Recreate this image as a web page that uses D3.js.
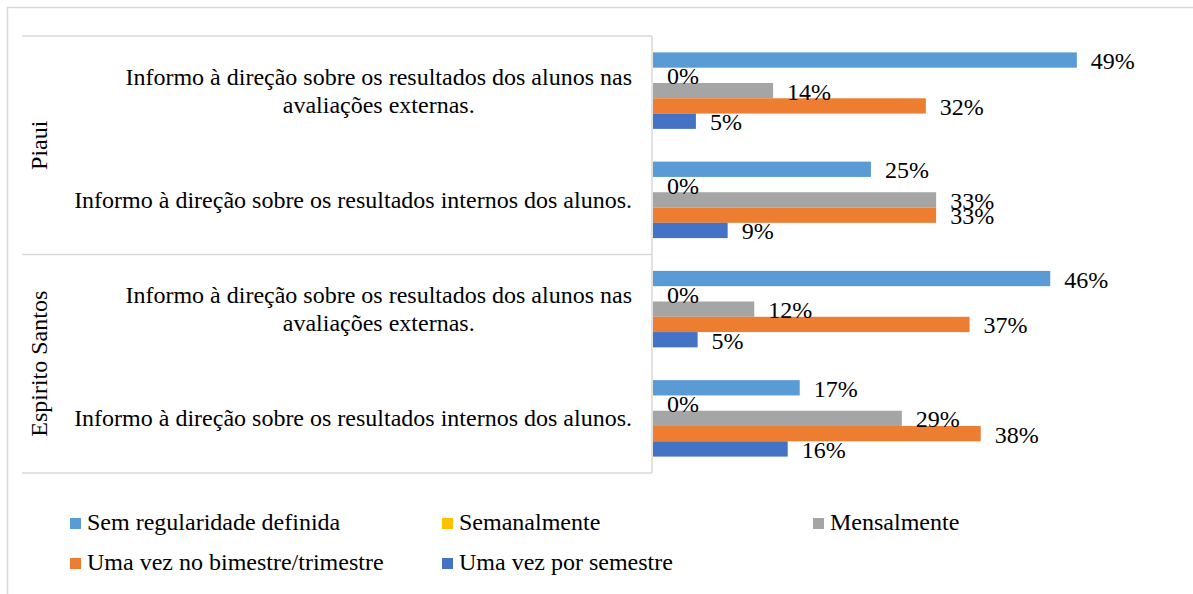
<!DOCTYPE html>
<html>
<head>
<meta charset="utf-8">
<script src="https://cdn.jsdelivr.net/npm/d3@7"></script>
<style>
  html, body { margin: 0; padding: 0; background: #fff; }
  svg { display: block; }
  text { font-family: "Liberation Serif", "Times New Roman", serif; fill: #000; }
</style>
</head>
<body>
<svg id="chart" width="1193" height="594"></svg>
<script>
// ---- data ----
const groups = ["Piaui", "Espirito Santos"];
const categories = [
  "Informo à direção sobre os resultados dos alunos nas avaliações externas.|Piaui",
  "Informo à direção sobre os resultados internos dos alunos.|Piaui",
  "Informo à direção sobre os resultados dos alunos nas avaliações externas.|Espirito Santos",
  "Informo à direção sobre os resultados internos dos alunos.|Espirito Santos"
];
const categoryLines = [
  ["Informo à direção sobre os resultados dos alunos nas", "avaliações externas."],
  ["Informo à direção sobre os resultados internos dos alunos."],
  ["Informo à direção sobre os resultados dos alunos nas", "avaliações externas."],
  ["Informo à direção sobre os resultados internos dos alunos."]
];
const seriesNames = ["Sem regularidade definida", "Semanalmente", "Mensalmente", "Uma vez no bimestre/trimestre", "Uma vez por semestre"];
const seriesColors = ["#5B9BD5", "#FFC000", "#A5A5A5", "#ED7D31", "#4472C4"];
const semRegularidade = [0.494, 0.254, 0.463, 0.171];
const semanalmente   = [0.000, 0.000, 0.000, 0.000];
const mensalmente    = [0.140, 0.330, 0.118, 0.290];
const bimestre       = [0.318, 0.330, 0.369, 0.382];
const semestre       = [0.050, 0.087, 0.052, 0.157];
const seriesValues = [semRegularidade, semanalmente, mensalmente, bimestre, semestre];

// ---- layout ----
const svg = d3.select("#chart");
const axisX = 652, plotTop = 36, plotBottom = 473;

const x = d3.scaleLinear().domain([0, 0.5]).range([axisX, axisX + 429]);
const y = d3.scaleBand().domain(categories).range([plotTop, plotBottom]).paddingInner(0.3).paddingOuter(0.15);
const ys = d3.scaleBand().domain(d3.range(seriesNames.length)).range([0, y.bandwidth()]);
const fmt = d3.format(".0%");

// outer chart border
svg.append("path").attr("d", "M7.5,594 V7.5 H1193").attr("fill", "none").attr("stroke", "#D9D9D9").attr("stroke-width", 1.5);

// table lines
[plotTop, (plotTop + plotBottom) / 2, plotBottom].forEach(v => {
  svg.append("line").attr("x1", 22).attr("x2", axisX).attr("y1", v).attr("y2", v)
    .attr("stroke", "#D9D9D9").attr("stroke-width", 1.5);
});
svg.append("line").attr("x1", axisX).attr("x2", axisX).attr("y1", plotTop).attr("y2", plotBottom)
  .attr("stroke", "#D9D9D9").attr("stroke-width", 1.5);

// bars
const barsG = svg.append("g");
seriesValues.forEach((vals, si) => {
  categories.forEach((c, ci) => {
    const v = vals[ci];
    const y0 = y(c) + ys(si);
    barsG.append("rect")
      .attr("x", x(0) + 1).attr("y", y0)
      .attr("width", Math.max(0, x(v) - x(0)))
      .attr("height", ys.bandwidth())
      .attr("fill", seriesColors[si]);
  });
});
// value labels
seriesValues.forEach((vals, si) => {
  categories.forEach((c, ci) => {
    const v = vals[ci];
    const yc = y(c) + ys(si) + ys.bandwidth() / 2;
    barsG.append("text")
      .attr("x", x(v) + 15).attr("y", yc + 9)
      .attr("font-size", 24)
      .text(fmt(v));
  });
});

// category labels (right-aligned block, centered lines)
const labelRight = 632;
const measure = svg.append("text").attr("font-size", 24).attr("visibility", "hidden");
categories.forEach((c, ci) => {
  const lines = categoryLines[ci];
  const widths = lines.map(l => { measure.text(l); return measure.node().getComputedTextLength(); });
  const maxW = d3.max(widths);
  const cx = labelRight - maxW / 2;
  const yc = y(c) + y.bandwidth() / 2;
  const lh = 28;
  lines.forEach((l, li) => {
    const ly = yc + (li - (lines.length - 1) / 2) * lh;
    svg.append("text").attr("x", cx).attr("y", ly + 8)
      .attr("text-anchor", "middle").attr("font-size", 24).text(l);
  });
});
measure.remove();

// group labels (rotated)
groups.forEach((g, gi) => {
  const cy = plotTop + (plotBottom - plotTop) / 4 * (2 * gi + 1);
  svg.append("text")
    .attr("transform", `translate(47,${cy}) rotate(-90)`)
    .attr("text-anchor", "middle").attr("font-size", 24).text(g);
});

// legend
const legendPos = [[70, 518], [442, 518], [813, 518], [70, 558], [442, 558]];
seriesNames.forEach((s, i) => {
  const [lx, ly] = legendPos[i];
  svg.append("rect").attr("x", lx).attr("y", ly).attr("width", 11).attr("height", 11).attr("fill", seriesColors[i]);
  svg.append("text").attr("x", lx + 17).attr("y", ly + 12).attr("font-size", 24).text(s);
});
</script>
</body>
</html>
